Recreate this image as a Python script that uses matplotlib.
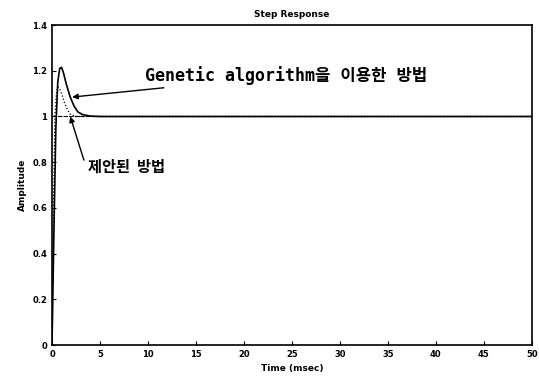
import matplotlib.pyplot as plt

# step response data
t_ga = [0, 0.2, 0.4, 0.6, 0.8, 1.0, 1.2, 1.5, 1.9, 2.3, 2.7, 3.2, 4.0, 5.0, 50]
y_ga = [0, 0.5, 0.95, 1.15, 1.21, 1.215, 1.19, 1.14, 1.085, 1.045, 1.02, 1.008, 1.002, 1.0, 1.0]

t_prop = [0, 0.15, 0.3, 0.45, 0.6, 0.8, 1.0, 1.3, 1.6, 1.9, 2.5, 50]
y_prop = [0, 0.6, 1.0, 1.1, 1.13, 1.12, 1.1, 1.06, 1.03, 1.01, 1.0, 1.0]

xticks = [0, 5, 10, 15, 20, 25, 30, 35, 40, 45, 50]
yticks = [0, 0.2, 0.4, 0.6, 0.8, 1, 1.2, 1.4]
ytick_labels = ['0', '0.2', '0.4', '0.6', '0.8', '1', '1.2', '1.4']

fig = plt.figure(figsize=(5.39, 3.8), dpi=100)
ax = fig.add_axes([0.0965, 0.092, 0.89, 0.842])

ax.plot(t_ga, y_ga, color='black', lw=1.2)
ax.plot(t_prop, y_prop, color='black', lw=0.9, ls=':')
ax.axhline(1.0, color='black', lw=0.8, ls=(0, (4, 1)))

ax.set_xlim(0, 50)
ax.set_ylim(0, 1.4)
ax.set_xticks(xticks)
ax.set_yticks(yticks)
ax.set_yticklabels(ytick_labels)
ax.tick_params(direction='in', length=3, labelsize=6)
for lab in ax.get_xticklabels() + ax.get_yticklabels():
    lab.set_fontweight('bold')
for s in ax.spines.values():
    s.set_linewidth(1.2)

ax.set_title('Step Response', fontsize=6.5, fontweight='bold', pad=6)
ax.set_xlabel('Time (msec)', fontsize=6.5, fontweight='bold')
ax.set_ylabel('Amplitude', fontsize=6.5, fontweight='bold')

ax.annotate('Genetic algorithm을 이용한 방법', xy=(2.1, 1.085), xytext=(9.7, 1.18),
            fontsize=12, fontweight='bold', va='center', ha='left',
            family=['DejaVu Sans Mono', 'Noto Sans CJK KR'],
            arrowprops=dict(arrowstyle='-|>', color='black', lw=1, mutation_scale=8,
                            shrinkA=1, shrinkB=0))
ax.annotate('제안된  방법', xy=(1.9, 1.0), xytext=(3.7, 0.78),
            fontsize=11, fontweight='bold', va='center', ha='left',
            family=['Noto Sans CJK KR', 'DejaVu Sans'],
            arrowprops=dict(arrowstyle='-|>', color='black', lw=1, mutation_scale=8,
                            relpos=(0, 0.2), shrinkA=2, shrinkB=0))

fig.savefig('out.png', dpi=100)
